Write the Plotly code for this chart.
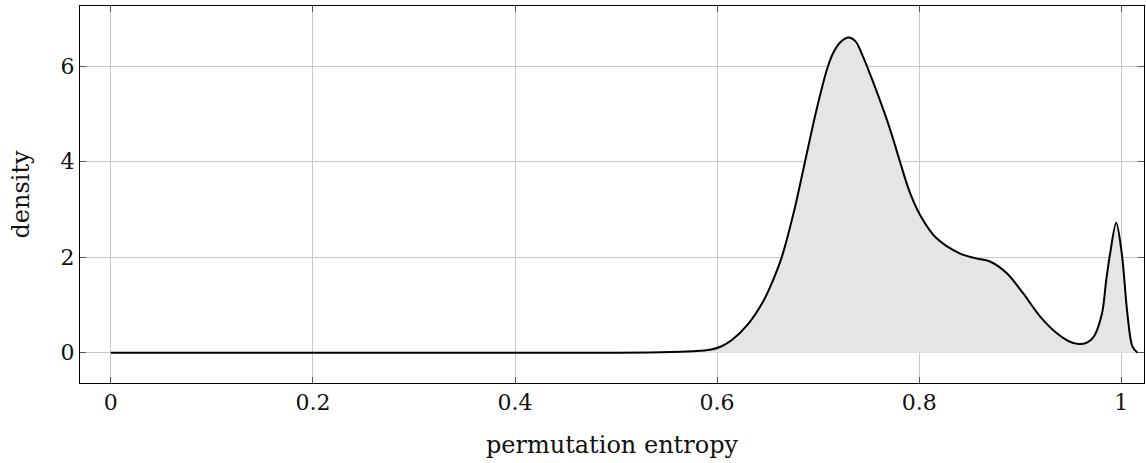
import plotly.graph_objects as go

# Kernel density estimate of permutation entropy
pe = [0.0, 0.2, 0.4, 0.5, 0.544, 0.577, 0.593, 0.604, 0.615, 0.630, 0.645, 0.655,
      0.664, 0.676, 0.687, 0.698, 0.709, 0.715, 0.722, 0.730, 0.737, 0.744,
      0.752, 0.760, 0.768, 0.775, 0.781, 0.790, 0.801, 0.817, 0.840,
      0.855, 0.870, 0.887, 0.903, 0.920, 0.936, 0.948, 0.958, 0.966, 0.973,
      0.981, 0.985, 0.989, 0.995, 1.0005, 1.006, 1.011, 1.016]
density = [0.0, 0.0, 0.0, 0.0, 0.008, 0.03, 0.06, 0.13, 0.27, 0.58, 1.05, 1.50,
           2.0, 2.95, 4.0, 5.05, 5.95, 6.28, 6.50, 6.60, 6.52, 6.22,
           5.80, 5.35, 4.88, 4.42, 4.0, 3.40, 2.88, 2.40, 2.08,
           1.98, 1.91, 1.66, 1.24, 0.75, 0.41, 0.24, 0.18, 0.21, 0.34,
           0.83, 1.50, 2.08, 2.72, 2.08, 0.83, 0.13, 0.0]

x_ticks = [0, 0.2, 0.4, 0.6, 0.8, 1]
x_tick_text = ["0", "0.2", "0.4", "0.6", "0.8", "1"]
y_ticks = [0, 2, 4, 6]

fig = go.Figure()
fig.add_trace(go.Scatter(
    x=pe, y=density, mode="lines",
    line=dict(color="black", width=2, shape="spline", smoothing=0.9),
    fill="tozeroy", fillcolor="#e5e5e5",
    showlegend=False,
))

tick_font = dict(family="DejaVu Serif", size=22, color="#111111")
title_font = dict(family="DejaVu Serif", size=24, color="#111111")

axis_common = dict(
    showgrid=True, gridcolor="#c8c8c8", gridwidth=1,
    showline=True, linecolor="black", linewidth=1, mirror="ticks",
    ticks="inside", ticklen=6, tickcolor="#555555",
    zeroline=False, tickfont=tick_font,
)

fig.update_layout(
    width=1146, height=463,
    margin=dict(l=80, r=2, t=6, b=80),
    plot_bgcolor="white", paper_bgcolor="white",
    font=tick_font,
    xaxis=dict(range=[-0.0305, 1.0225], tickvals=x_ticks, ticktext=x_tick_text,
               title=dict(text="permutation entropy", font=title_font, standoff=21),
               **axis_common),
    yaxis=dict(range=[-0.635, 7.26], tickvals=y_ticks,
               title=dict(text="density", font=title_font, standoff=24),
               **axis_common),
)

fig.write_html("out.html")
